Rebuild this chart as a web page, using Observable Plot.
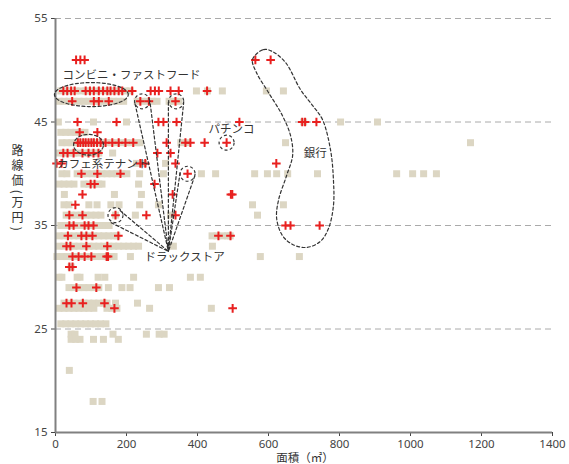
<!DOCTYPE html>
<html><head><meta charset="utf-8">
<script src="https://cdn.jsdelivr.net/npm/d3@7"></script>
<script src="https://cdn.jsdelivr.net/npm/@observablehq/plot@0.6"></script>
<style>html,body{margin:0;padding:0;background:#fff;overflow:hidden}</style>
</head><body><div id="chart"></div>
<script>
const xTicks = [0, 200, 400, 600, 800, 1000, 1200, 1400];
const yTicks = [15, 25, 35, 45, 55];
const gridLevels = [25, 35, 45, 55];

// 他の店舗（灰色の四角）: [路線価, [面積...]]
const otherRows = [
  [48, [15,29,43,57,71,85,99,113,127,141,155,169,183,197,210,397,428,470,594,642]],
  [47, [10,24,38,52,66,80,94,108,122,136,150,164,178,192,230,244,258,272,286,320,334,348]],
  [45, [8,107,200,699,803,907]],
  [44, [15,29,43,57,71,83]],
  [43, [18,32,46,60,74,88,102,116,130,144,158,172,186,200,214,228,238,353,370,648,1169]],
  [42, [10,24,38,52,66,80,94,108,122,161]],
  [41, [228,248,310]],
  [40, [18,32,61,75,89,103,117,131,145,159,173,187,201,237,304,411,451,561,597,623,654,738,961,1006,1037,1073]],
  [39, [10,24,38,52,80,94,108,122,131,234]],
  [38, [25,166,242]],
  [37, [24,38,94,117,156,179,237,290,555,642]],
  [36, [30,44,58,72,86,100,114,128,169,225,324,569]],
  [35, [15,29,43,57,71,85,99,113,127,141,151]],
  [34, [10,24,38,52,66,80,94,108,122,136,150,164,173,441,455,470,485,492]],
  [33, [10,24,38,52,66,80,94,108,122,136,150,164,178,192,206,220,234,332,442]],
  [32, [4,18,32,46,60,74,88,102,116,130,144,158,165,211,577,687]],
  [31, [44]],
  [30, [10,18,61,69,120,139,220,380,408]],
  [29, [38,52,66,80,94,108,122,149,187,210,290,321]],
  [27.5, [24,38,52,66,80,94,108,122,136,145,169,231]],
  [27, [10,24,38,52,66,80,94,108,145,159,173,265,439]],
  [25.5, [15,29,43,57,71,85,99,113,127,142]],
  [24.5, [44,55,162,256,292,306]],
  [24, [44,57,69,107,135,177]],
  [21, [39]],
  [18, [106,131]]
];

// 対象業種（赤い十字）: [路線価, [面積...]]
const focusRows = [
  [51, [58,70,82,563,606]],
  [48, [22,33,44,54,85,97,108,122,134,146,155,166,178,188,216,268,280,291,324,347,427]],
  [47, [47,108,122,150,239,263,338]],
  [45, [62,172,290,304,341,518,695,703,735]],
  [44, [68,118]],
  [43, [63,70,78,85,93,101,108,117,127,141,160,178,197,219,313,366,380,420,482]],
  [42, [22,34,51,76,93,107,121,287,324]],
  [41, [3,17,239,253,338,622]],
  [40, [73,118,183,372]],
  [39, [99,110,279]],
  [38, [76,330,494,498]],
  [37, [56]],
  [36, [39,76,169,256,338]],
  [35, [39,51,82,93,107,648,662,744]],
  [34, [35,73,87,104,177,459,493]],
  [33, [31,42,87,146]],
  [32, [48,65,82,101,144,148]],
  [31, [39,48]],
  [29, [59,115]],
  [27.5, [31,45,77,138]],
  [27, [166,499]]
];

// 注釈
const ellipseShapes = [
  {id: "konbini", cx: 101, cy: 47.65, rx: 104, ry: 1.16},
  {id: "cafe", cx: 93, cy: 42.8, rx: 42, ry: 1.0}
];
const circleCenters = [[244, 47], [340, 47], [372, 40], [169, 36], [482, 43]];
const drugApex = [318, 32.5];
const drugTails = [
  [[224, 46.76], [266, 47.01]],
  [[318, 46.92], [361, 46.85]],
  [[351, 40.1], [392, 39.76]],
  [[157, 35.27], [181, 36.47]]
];
const bankOutline = [
  [555,51.04],[586,52.0],[611,51.81],[648,50.75],[690,48.14],[724,46.6],[752,45.24],
  [775,42.25],[783,39.35],[783,36.94],[769,34.71],[746,33.46],[707,32.88],[668,33.17],
  [639,34.04],[623,35.68],[628,37.42],[651,39.83],[668,41.77],[662,43.7],[639,45.63],
  [600,47.85],[566,49.78]
];
const startLabels = [
  {text: "コンビニ・ファストフード", area: 20, price: 49.55},
  {text: "カフェ系テナント", area: 5, price: 40.87},
  {text: "ドラックストア", area: 251, price: 31.94}
];
const middleLabels = [
  {text: "パチンコ", area: 496, price: 44.25},
  {text: "銀行", area: 732, price: 41.99}
];
const xTitle = "面積（㎡）";
const yTitle = "路線価(万円)";

const squares = otherRows.flatMap(([price, areas]) => areas.map(area => ({area, price})));
const crosses = focusRows.flatMap(([price, areas]) => areas.map(area => ({area, price})));
const ellipsePts = ellipseShapes.flatMap(e => d3.range(0, 73).map(i => {
  const t = i / 72 * 2 * Math.PI;
  return {id: e.id, area: e.cx + e.rx * Math.cos(t), price: e.cy + e.ry * Math.sin(t)};
}));
const tailPts = drugTails.flatMap((p, i) => [
  {id: i, area: p[0][0], price: p[0][1]},
  {id: i, area: drugApex[0], price: drugApex[1]},
  {id: i, area: p[1][0], price: p[1][1]}
]);

const dashStyle = {stroke: "#333", strokeWidth: 1.2, strokeDasharray: "3,2.4"};
const jp = "'Noto Sans CJK JP', 'Noto Sans', sans-serif";

const chart = Plot.plot({
  width: 569,
  height: 464,
  marginLeft: 55,
  marginRight: 17,
  marginTop: 18,
  marginBottom: 32,
  style: {fontFamily: "'Noto Sans', 'Noto Sans CJK JP', sans-serif", fontSize: "11.5px", color: "#444", background: "#fff"},
  x: {domain: [0, 1400], ticks: xTicks, tickFormat: d => String(d), tickSize: 4, tickPadding: 3, label: null},
  y: {domain: [15, 55], ticks: yTicks, tickFormat: d => String(d), tickSize: 4, tickPadding: 4, label: null},
  marks: [
    Plot.ruleY(gridLevels, {stroke: "#aaa", strokeWidth: 1, strokeDasharray: "6,4"}),
    Plot.dot(squares, {x: "area", y: "price", symbol: "square", r: 3.95, fill: "#dcd6c3", stroke: "none"}),
    Plot.dot(crosses, {x: "area", y: "price", symbol: "plus", r: 2.9, stroke: "#e8201f", strokeWidth: 2, fill: "none"}),
    Plot.ruleX([0], {stroke: "#808080", strokeWidth: 2}),
    Plot.ruleY([15], {stroke: "#808080", strokeWidth: 2}),
    Plot.line(ellipsePts, {x: "area", y: "price", z: "id", ...dashStyle}),
    Plot.dot(circleCenters, {x: d => d[0], y: d => d[1], r: 7.5, fill: "none", ...dashStyle}),
    Plot.line(tailPts, {x: "area", y: "price", z: "id", ...dashStyle}),
    Plot.line(bankOutline, {x: d => d[0], y: d => d[1], curve: "catmull-rom-closed", ...dashStyle}),
    Plot.text(startLabels, {x: "area", y: "price", text: "text", textAnchor: "start", fontFamily: jp, fontSize: 11.5, fill: "#333"}),
    Plot.text(middleLabels, {x: "area", y: "price", text: "text", textAnchor: "middle", fontFamily: jp, fontSize: 11.5, fill: "#333"}),
    Plot.text([xTitle], {frameAnchor: "bottom", dy: 29, dx: 1, fontFamily: jp, fontSize: 11.5, fill: "#333"}),
    Plot.text([yTitle], {frameAnchor: "left", textAnchor: "middle", dx: -38, dy: -40, fontFamily: jp, fontSize: 12, fill: "#333"})
  ]
});
document.getElementById("chart").appendChild(chart);
d3.select(chart).selectAll("text")
  .filter(function() { return this.textContent === yTitle; })
  .style("writing-mode", "vertical-rl")
  .style("letter-spacing", "3px")
  .attr("dy", null);
</script>
</body></html>
